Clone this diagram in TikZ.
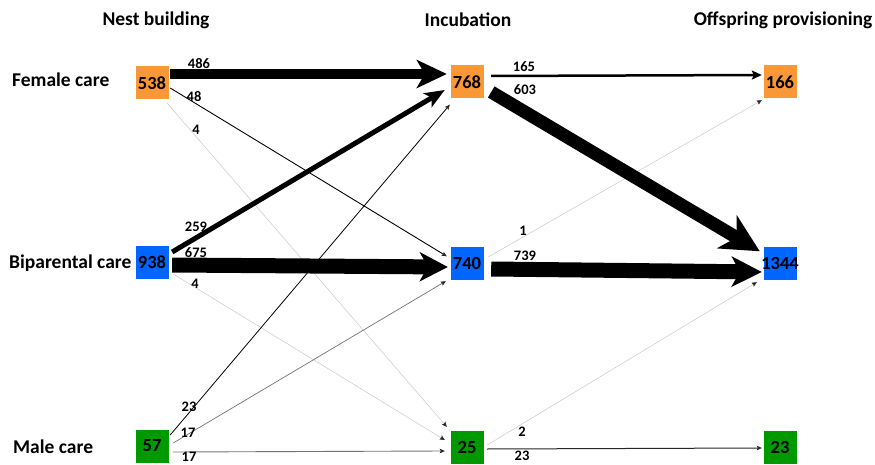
\documentclass[tikz,border=0pt]{standalone}
\usepackage{fontspec}
\setmainfont{Carlito}
\usepackage{xcolor}
\definecolor{femaleorange}{RGB}{250, 152, 56}
\definecolor{biparentblue}{RGB}{0, 102, 255}
\definecolor{malegreen}{RGB}{0, 153, 0}
\definecolor{faintgrey}{RGB}{200, 200, 200}
\definecolor{midgrey}{RGB}{115, 115, 115}
\usepackage{tikz}
\usetikzlibrary{arrows.meta}
\tikzstyle{stage} = [font=\fontsize{19.5}{21}\selectfont\bfseries, inner sep=0pt]
\tikzstyle{care} = [font=\fontsize{19.5}{21}\selectfont\bfseries, anchor=west, inner sep=0pt]
\tikzstyle{count} = [shape=rectangle, minimum size=33pt, inner sep=0pt, font=\fontsize{18.5}{20}\selectfont\bfseries]
\tikzstyle{flowlabel} = [font=\fontsize{14.5}{16}\selectfont\bfseries, inner sep=0pt]
\tikzset{
  bigflow/.style n args={4}{line width=#1, -{Stealth[length=#2, width=#3, inset=#4]}},
  smallflow/.style={line width=#1, -{Stealth[length=5pt, width=4.5pt, inset=1pt, color=black!85]}}
}

\begin{document}
\begin{tikzpicture}[x=1pt, y=1pt]
  \useasboundingbox (0,0) rectangle (875,-465);

  % stage headers and care rows
  \node[stage] (hnest) at (156,-20) {Nest building};
  \node[stage] (hinc) at (468,-20) {Incubation};
  \node[stage] (hoff) at (783,-20) {Offspring provisioning};
  \node[care] (rfemale) at (12,-80) {Female care};
  \node[care] (rbi) at (9,-263) {Biparental care};
  \node[care] (rmale) at (13,-447) {Male care};

  % counts per stage
  \node[count, fill=femaleorange] (nestF) at (152,-83) {538};
  \node[count, fill=biparentblue] (nestB) at (152,-262) {938};
  \node[count, fill=malegreen] (nestM) at (152,-446) {57};
  \node[count, fill=femaleorange] (incF) at (467,-82) {768};
  \node[count, fill=biparentblue] (incB) at (467,-263) {740};
  \node[count, fill=malegreen] (incM) at (467,-447) {25};
  \node[count, fill=femaleorange] (offF) at (780,-82) {166};
  \node[count, fill=biparentblue] (offB) at (780,-263) {\makebox[0pt]{1344}};
  \node[count, fill=malegreen] (offM) at (780,-447) {23};

  % nest building -> incubation
  \draw[faintgrey, smallflow=0.5pt] ([xshift=-1.5pt, yshift=-3.5pt]nestF.south east) -- ([xshift=-3.5pt, yshift=3.5pt]incM.north west);
  \draw[faintgrey, smallflow=0.5pt] ([xshift=4.5pt, yshift=-12pt]nestB.east) -- ([xshift=-5.5pt, yshift=7pt]incM.west);
  \draw[black, smallflow=0.9pt] ([xshift=1.5pt, yshift=-5pt]nestF.east) -- ([xshift=-3.5pt, yshift=-10pt]incB.north west);
  \draw[black, smallflow=0.8pt] ([xshift=1.5pt, yshift=11pt]nestM.east) -- ([xshift=-0.5pt, yshift=-6pt]incF.south west);
  \draw[midgrey, smallflow=0.7pt] ([xshift=4.5pt, yshift=3pt]nestM.east) -- ([xshift=-4.5pt, yshift=-1.5pt]incB.south west);
  \draw[midgrey, smallflow=0.9pt] ([xshift=4.5pt, yshift=-6pt]nestM.east) -- ([xshift=-5.5pt, yshift=-4pt]incM.west);
  \draw[bigflow={10pt}{30pt}{28pt}{8pt}] ([xshift=1.5pt, yshift=9pt]nestF.east) -- ([xshift=-3.5pt, yshift=8pt]incF.west);
  \draw[bigflow={5pt}{20pt}{16pt}{5pt}] ([xshift=3.5pt, yshift=10pt]nestB.east) -- ([xshift=-5.5pt, yshift=-8pt]incF.west);
  \draw[bigflow={15pt}{28pt}{29pt}{8pt}] ([xshift=3.5pt, yshift=-3pt]nestB.east) -- ([xshift=-2.5pt, yshift=-4pt]incB.west);

  % incubation -> offspring provisioning
  \draw[faintgrey, smallflow=0.5pt] ([xshift=4.5pt, yshift=6pt]incB.east) -- ([xshift=-1.5pt, yshift=-1.5pt]offF.south west);
  \draw[faintgrey, smallflow=0.5pt] ([xshift=3.5pt, yshift=2pt]incM.east) -- ([xshift=-6.5pt, yshift=-2.5pt]offB.south west);
  \draw[black!85, smallflow=1pt] ([xshift=3.5pt, yshift=-2pt]incM.east) -- ([xshift=-1.5pt, yshift=-1pt]offM.west);
  \draw[bigflow={2.5pt}{10pt}{9pt}{2pt}] ([xshift=7.5pt, yshift=6pt]incF.east) -- ([xshift=-1.5pt, yshift=7pt]offF.west);
  \draw[bigflow={13pt}{38pt}{38pt}{11pt}] ([xshift=7.5pt, yshift=-10pt]incF.east) -- ([xshift=-3.5pt, yshift=-5pt]offB.north west);
  \draw[bigflow={15pt}{30pt}{30pt}{8pt}] ([xshift=7.5pt, yshift=-6pt]incB.east) -- ([xshift=-1.5pt, yshift=-9pt]offB.west);

  % flow sizes
  \node[flowlabel] (l486) at (199,-64) {486};
  \node[flowlabel] (l48) at (194,-97) {48};
  \node[flowlabel] (l4a) at (196,-130) {4};
  \node[flowlabel] (l259) at (196,-227) {259};
  \node[flowlabel] (l675) at (196,-253) {675};
  \node[flowlabel] (l4b) at (195,-284) {4};
  \node[flowlabel] (l23a) at (189,-407) {23};
  \node[flowlabel] (l17a) at (188,-433) {17};
  \node[flowlabel] (l17b) at (189,-457) {17};
  \node[flowlabel] (l165) at (524,-67) {165};
  \node[flowlabel] (l603) at (525,-90) {603};
  \node[flowlabel] (l1) at (523,-231) {1};
  \node[flowlabel] (l739) at (525,-256) {739};
  \node[flowlabel] (l2) at (522,-432) {2};
  \node[flowlabel] (l23b) at (522,-456) {23};
\end{tikzpicture}
\end{document}
